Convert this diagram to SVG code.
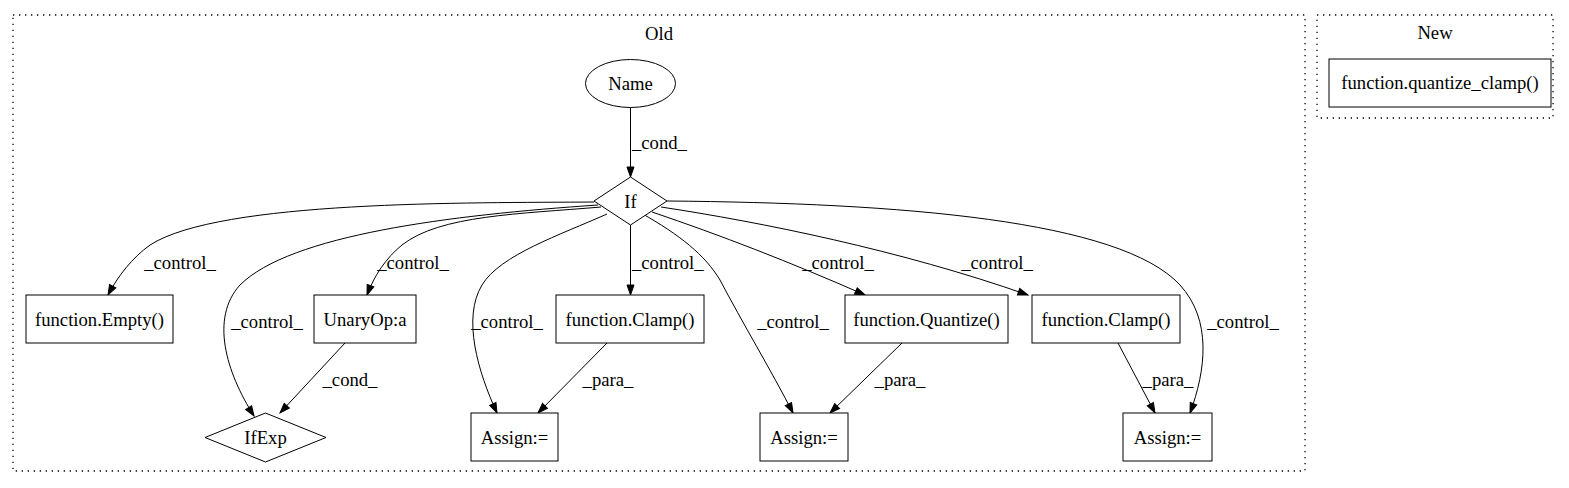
<svg xmlns="http://www.w3.org/2000/svg" width="1569" height="488" viewBox="0 0 1569 488">
<defs>
<style>
text{font-family:"Liberation Serif","Times New Roman",serif;font-size:18.67px;fill:#000}
.n{fill:#fff;stroke:#000;stroke-width:1}
.c{fill:none;stroke:#000;stroke-width:1.3;stroke-dasharray:1.3,4.7}
.e{fill:none;stroke:#000;stroke-width:1;marker-end:url(#ah)}
.m{text-anchor:middle}
</style>
<marker id="ah" markerUnits="userSpaceOnUse" markerWidth="10" markerHeight="7" refX="10" refY="3.5" orient="auto" overflow="visible">
<path d="M0,0 L10,3.5 L0,7 z" fill="#000" stroke="#000"/>
</marker>
</defs>
<rect width="1569" height="488" fill="#fff"/>
<g id="clusters">
<rect class="c" x="13" y="15" width="1292" height="456"/>
<text class="m" x="659" y="40">Old</text>
<rect class="c" x="1317" y="15" width="236" height="103"/>
<text class="m" x="1435" y="39">New</text>
</g>
<g id="edges">
<path class="e" d="M630.5,107.5 L630.5,177"/>
<text x="632" y="149">_cond_</text>
<path class="e" d="M594,202 C470,203 220,200 150,245 C132,258 118,276 108,295"/>
<text class="m" x="180" y="269">_control_</text>
<path class="e" d="M598,205 C450,215 290,235 240,285 C210,318 226,372 254,416"/>
<text class="m" x="267" y="328">_control_</text>
<path class="e" d="M601,207 C520,214 440,215 402,245 C386,258 374,276 367,295"/>
<text class="m" x="413" y="269">_control_</text>
<path class="e" d="M630.5,225 L630.5,295"/>
<text x="632" y="269">_control_</text>
<path class="e" d="M607,214 C560,235 500,255 482,285 C462,318 478,372 497,413"/>
<text class="m" x="507" y="328">_control_</text>
<path class="e" d="M641,213 C680,235 705,255 720,280 C742,322 772,372 793,413"/>
<text class="m" x="793" y="328">_control_</text>
<path class="e" d="M652,212 C720,235 790,262 865,295"/>
<text class="m" x="838" y="269">_control_</text>
<path class="e" d="M661,207 C760,222 900,250 1028,295"/>
<text class="m" x="997" y="269">_control_</text>
<path class="e" d="M667,201 C900,203 1120,220 1180,285 C1212,320 1206,370 1190,413"/>
<text class="m" x="1243" y="328">_control_</text>
<path class="e" d="M607,343 L538,413"/>
<text class="m" x="608" y="386">_para_</text>
<path class="e" d="M902,343 L830,413"/>
<text class="m" x="900" y="386">_para_</text>
<path class="e" d="M1118,343 L1155,413"/>
<text class="m" x="1168" y="386">_para_</text>
<path class="e" d="M345,343 L280,413"/>
<text class="m" x="350" y="386">_cond_</text>
</g>
<g id="node-name">
<ellipse class="n" cx="630.5" cy="83.5" rx="45" ry="24"/>
<text class="m" x="630.5" y="90">Name</text>
</g>
<g id="node-if">
<polygon class="n" points="630.5,177 667,201 630.5,225 594,201"/>
<text class="m" x="630.5" y="207.5">If</text>
</g>
<g id="node-empty">
<rect class="n" x="26" y="295" width="147" height="48"/>
<text class="m" x="99.5" y="326">function.Empty()</text>
</g>
<g id="node-unaryop">
<rect class="n" x="314" y="295" width="102" height="48"/>
<text class="m" x="365" y="326">UnaryOp:a</text>
</g>
<g id="node-clamp1">
<rect class="n" x="556" y="295" width="148" height="48"/>
<text class="m" x="630" y="326">function.Clamp()</text>
</g>
<g id="node-quantize">
<rect class="n" x="845" y="295" width="163" height="48"/>
<text class="m" x="926.5" y="326">function.Quantize()</text>
</g>
<g id="node-clamp2">
<rect class="n" x="1032" y="295" width="148" height="48"/>
<text class="m" x="1106" y="326">function.Clamp()</text>
</g>
<g id="node-ifexp">
<polygon class="n" points="265.5,413 326,437.5 265.5,462 205,437.5"/>
<text class="m" x="265.5" y="444">IfExp</text>
</g>
<g id="node-assign1">
<rect class="n" x="471" y="413" width="87" height="48"/>
<text class="m" x="514.5" y="444">Assign:=</text>
</g>
<g id="node-assign2">
<rect class="n" x="760" y="413" width="88" height="48"/>
<text class="m" x="804" y="444">Assign:=</text>
</g>
<g id="node-assign3">
<rect class="n" x="1123" y="413" width="89" height="48"/>
<text class="m" x="1167.5" y="444">Assign:=</text>
</g>
<g id="node-quantize-clamp">
<rect class="n" x="1329" y="59" width="222" height="48"/>
<text class="m" x="1440" y="89">function.quantize_clamp()</text>
</g>
</svg>
